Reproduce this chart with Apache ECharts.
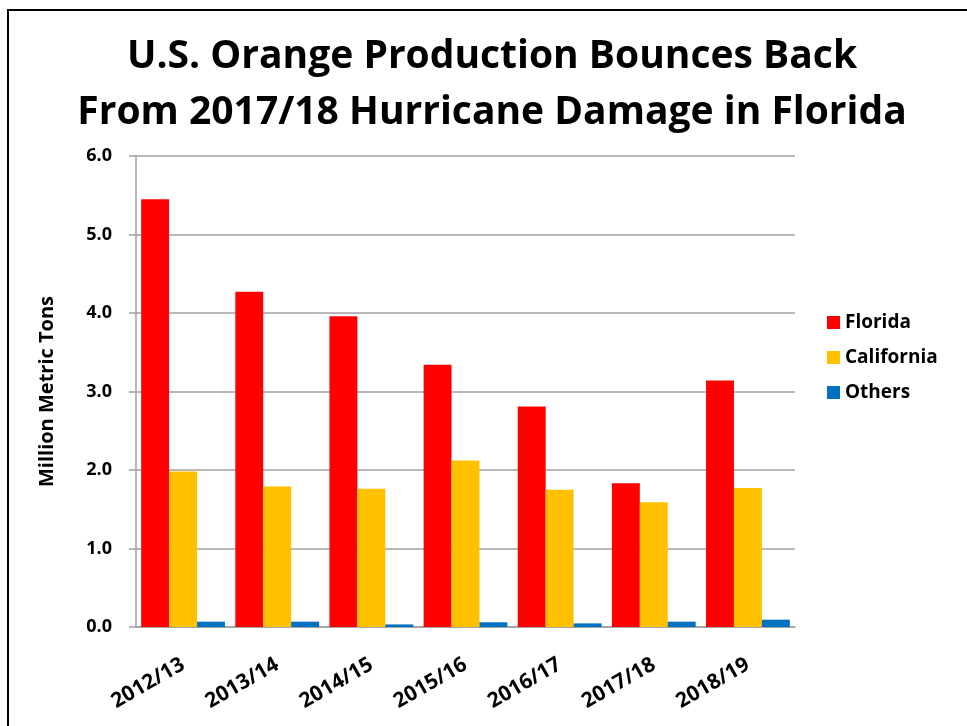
<!DOCTYPE html>
<html><head><meta charset="utf-8">
<script src="https://cdn.jsdelivr.net/npm/echarts@6/dist/echarts.min.js"></script>
<style>html,body{margin:0;padding:0;background:#fff}#c{width:967px;height:726px}</style>
</head><body><div id="c"></div>
<script>
const categories = ['2012/13','2013/14','2014/15','2015/16','2016/17','2017/18','2018/19'];
const florida = [5.45, 4.27, 3.96, 3.34, 2.81, 1.83, 3.14];
const california = [1.98, 1.79, 1.76, 2.12, 1.75, 1.59, 1.77];
const others = [0.068, 0.068, 0.033, 0.06, 0.046, 0.068, 0.093];
const yTicks = ['0.0','1.0','2.0','3.0','4.0','5.0','6.0'];

const FONT = '"Open Sans", "Liberation Sans", sans-serif';
const chart = echarts.init(document.getElementById('c'), null, {renderer:'canvas'});
chart.setOption({
  animation: false,
  backgroundColor: '#fff',
  title: {
    text: 'U.S. Orange Production Bounces Back\nFrom 2017/18 Hurricane Damage in Florida',
    left: 487, top: 24, textAlign: 'center',
    textStyle: {fontFamily: FONT, fontWeight: 'bold', fontSize: 39, lineHeight: 56, color: '#000'}
  },
  graphic: [{
    type: 'rect', shape: {x: 8, y: 10, width: 1000, height: 1000},
    style: {fill: 'none', stroke: '#000', lineWidth: 2}, silent: true
  }],
  legend: {
    orient: 'vertical', left: 822, top: 308, itemWidth: 13, itemHeight: 13, itemGap: 16,
    icon: 'rect',
    textStyle: {fontFamily: FONT, fontWeight: 'bold', fontSize: 19, color: '#000'}
  },
  grid: {left: 136, right: 172, top: 156, bottom: 99, containLabel: false},
  xAxis: {
    type: 'category', data: categories,
    axisLine: {lineStyle: {color: '#a0a0a0', width: 1.5}},
    axisTick: {length: 6, lineStyle: {color: '#a0a0a0', width: 1.5}},
    axisLabel: {rotate: 30, fontFamily: FONT, fontWeight: 'bold', fontSize: 21, color: '#000', margin: 36}
  },
  yAxis: {
    type: 'value', min: 0, max: 6, interval: 1,
    name: 'Million Metric Tons', nameLocation: 'middle', nameGap: 79, nameRotate: 90,
    nameTextStyle: {fontFamily: FONT, fontWeight: 'bold', fontSize: 20, color: '#000'},
    axisLine: {show: true, lineStyle: {color: '#a0a0a0', width: 1.5}},
    axisTick: {show: true, inside: false, length: 7, lineStyle: {color: '#a0a0a0', width: 1.5}},
    splitLine: {lineStyle: {color: '#a0a0a0', width: 1.5}},
    axisLabel: {fontFamily: FONT, fontWeight: 'bold', fontSize: 18, color: '#000', margin: 24,
      formatter: (v) => yTicks[Math.round(v)]}
  },
  series: [
    {name: 'Florida', type: 'bar', data: florida, itemStyle: {color: '#ff0000'}, barGap: '0%', barCategoryGap: '11%'},
    {name: 'California', type: 'bar', data: california, itemStyle: {color: '#ffc000'}},
    {name: 'Others', type: 'bar', data: others, itemStyle: {color: '#0070c0'}}
  ]
});
</script></body></html>
